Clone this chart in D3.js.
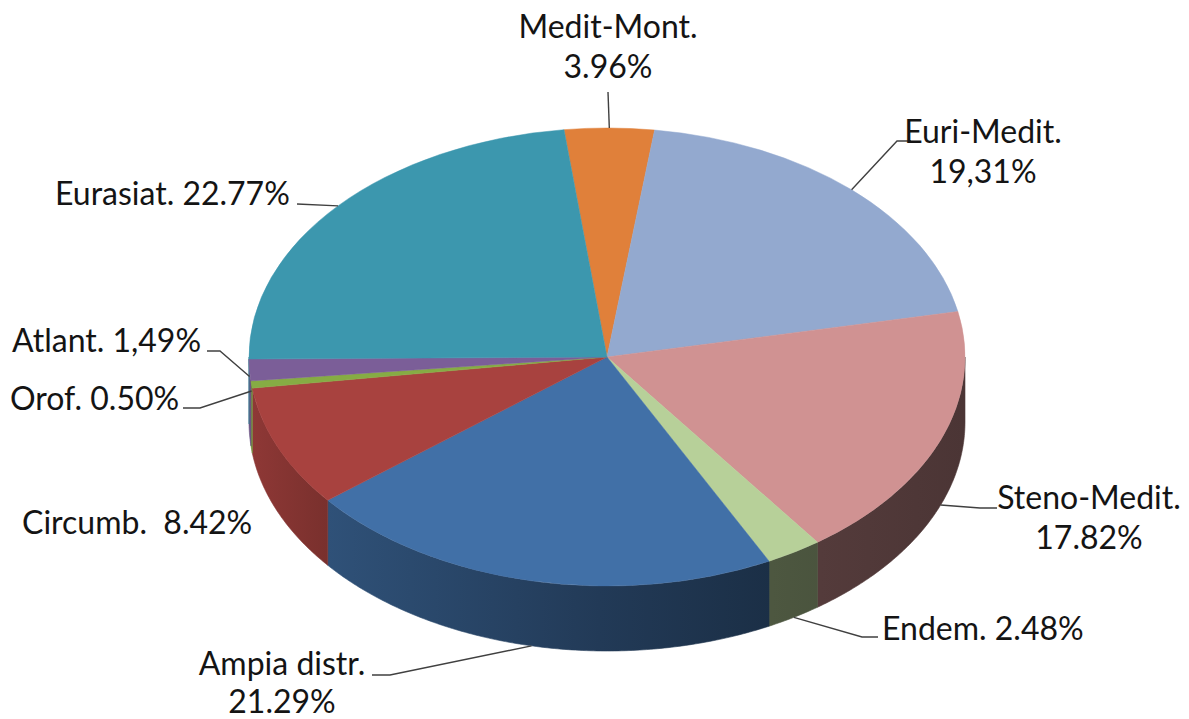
<!DOCTYPE html>
<html>
<head>
<meta charset="utf-8">
<script src="https://cdn.jsdelivr.net/npm/d3@7"></script>
<style>
  body { margin: 0; background: #fff; }
  svg text { font-family: Lato, 'Open Sans', sans-serif; font-size: 32px; fill: #141414; }
  .leader { fill: none; stroke: #404040; stroke-width: 1.4; }
</style>
</head>
<body>
<svg id="chart" width="1189" height="719"></svg>
<script>
// Chart data
const categories = ['Medit-Mont.', 'Euri-Medit.', 'Steno-Medit.', 'Endem.', 'Ampia distr.',
                    'Circumb.', 'Orof.', 'Atlant.', 'Eurasiat.']
const values = [3.96, 19.31, 17.82, 2.48, 21.29, 8.42, 0.50, 1.49, 22.77]
const valueLabels = ['3.96%', '19,31%', '17.82%', '2.48%', '21.29%', '8.42%', '0.50%', '1,49%', '22.77%']
const colors = ['#E0803A', '#93A9CF', '#D09292', '#B7D099', '#4170A7',
                '#A8423F', '#86AC44', '#7B5E98', '#3C97AE']

// Label layout: where Excel put each data label
const labelLayout = [
  { x: 608, y: 38, anchor: 'middle', split: true, gap: 40, wall: 0, leader: [[608, 92]] },
  { x: 983, y: 143, anchor: 'middle', split: true, gap: 40, wall: 0, leader: [[897, 141], [911, 141]] },
  { x: 1089, y: 509, anchor: 'middle', split: true, gap: 40, wall: 1, leader: [[980, 508], [997, 508]] },
  { x: 882, y: 640, anchor: 'start', split: false, wall: 1, leader: [[862, 637], [878, 637]] },
  { x: 282, y: 675, anchor: 'middle', split: true, gap: 38, wall: 1, leader: [[390, 675], [372, 675]] },
  { x: 22, y: 534, anchor: 'start', split: false, sep: '  ', wall: 0, leader: null },
  { x: 10, y: 410, anchor: 'start', split: false, wall: 0.1, leader: [[200, 408], [183, 408]] },
  { x: 12, y: 352, anchor: 'start', split: false, wall: 0.1, leader: [[220, 351], [207, 351]] },
  { x: 55, y: 205, anchor: 'start', split: false, wall: 0, leader: [[297, 204]] }
]

const pie3d = { cx: 607, cy: 357, rx: 358, ry: 229, depth: 65, start: -6.9 }

const svg = d3.select('#chart')
const defs = svg.append('defs')

const rad = d => d * Math.PI / 180
const rimPoint = (a, drop) => [
  pie3d.cx + pie3d.rx * Math.sin(a),
  pie3d.cy - pie3d.ry * Math.cos(a) + (drop || 0)
]

const arcs = d3.pie()
  .sort(null)
  .value(d => d)
  .startAngle(rad(pie3d.start))
  .endAngle(rad(pie3d.start) + 2 * Math.PI)(values)

// Side wall shading: darker towards the right
const shade = [[0, 0.85], [0.11, 0.72], [0.49, 0.52], [0.73, 0.42], [1, 0.36]]
colors.forEach((c, i) => {
  const base = d3.rgb(c)
  const g = defs.append('linearGradient')
    .attr('id', 'side' + i)
    .attr('gradientUnits', 'userSpaceOnUse')
    .attr('x1', pie3d.cx - pie3d.rx).attr('x2', pie3d.cx + pie3d.rx)
    .attr('y1', 0).attr('y2', 0)
  shade.forEach(([o, f]) => {
    g.append('stop')
      .attr('offset', o)
      .attr('stop-color', d3.rgb(base.r * f, base.g * f, base.b * f))
  })
})

// Outer walls (front half only)
const walls = svg.append('g').attr('class', 'walls')
arcs.forEach((a, i) => {
  const a0 = Math.max(a.startAngle, Math.PI / 2)
  const a1 = Math.min(a.endAngle, 3 * Math.PI / 2)
  if (a1 <= a0) return
  const n = Math.max(4, Math.ceil((a1 - a0) / 0.01))
  const steps = d3.range(n + 1).map(k => a0 + (a1 - a0) * k / n)
  const pts = steps.map(t => rimPoint(t, 0))
    .concat(steps.slice().reverse().map(t => rimPoint(t, pie3d.depth)))
  walls.append('path')
    .attr('d', d3.line()(pts) + 'Z')
    .attr('fill', 'url(#side' + i + ')')
    .attr('stroke', 'url(#side' + i + ')')
    .attr('stroke-width', 0.6)
})

// Top faces
const arcGen = d3.arc().innerRadius(0).outerRadius(pie3d.rx)
svg.append('g')
  .attr('transform', `translate(${pie3d.cx},${pie3d.cy}) scale(1,${pie3d.ry / pie3d.rx})`)
  .selectAll('path')
  .data(arcs)
  .join('path')
  .attr('d', arcGen)
  .attr('fill', (d, i) => colors[i])
  .attr('stroke', (d, i) => colors[i])
  .attr('stroke-width', 0.6)

// Leaders and labels
const labels = svg.append('g').attr('class', 'labels')
arcs.forEach((a, i) => {
  const lay = labelLayout[i]
  const mid = (a.startAngle + a.endAngle) / 2
  if (lay.leader) {
    const anchorPt = rimPoint(mid, pie3d.depth * lay.wall)
    labels.append('path')
      .attr('class', 'leader')
      .attr('d', d3.line()([anchorPt].concat(lay.leader)))
  }
  const txt = labels.append('text')
    .attr('x', lay.x)
    .attr('y', lay.y)
    .attr('text-anchor', lay.anchor)
    .attr('xml:space', 'preserve')
  if (lay.split) {
    txt.append('tspan').attr('x', lay.x).text(categories[i])
    txt.append('tspan').attr('x', lay.x).attr('dy', lay.gap).text(valueLabels[i])
  } else {
    txt.text(categories[i] + (lay.sep || ' ') + valueLabels[i])
  }
})
</script>
</body>
</html>
